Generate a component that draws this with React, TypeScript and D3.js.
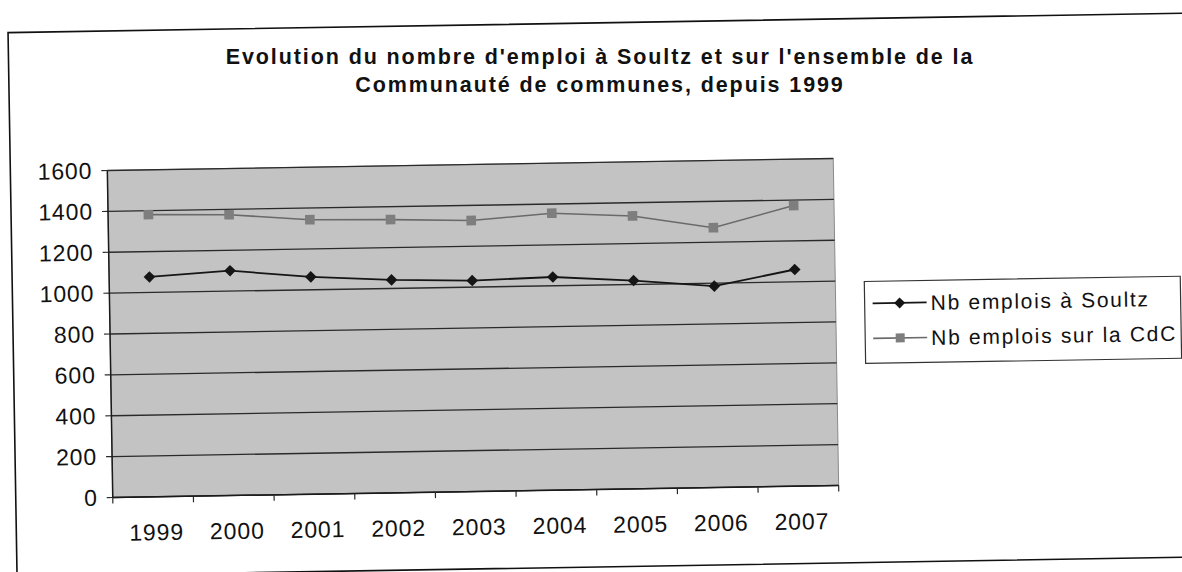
import React from 'react';
import * as d3 from 'd3';

const years = ['1999', '2000', '2001', '2002', '2003', '2004', '2005', '2006', '2007'];
const soultz = [1076, 1100, 1063, 1042, 1032, 1043, 1019, 985, 1060];
const cdc = [1381, 1374, 1343, 1337, 1326, 1355, 1335, 1271, 1373];
const yTicks = [0, 200, 400, 600, 800, 1000, 1200, 1400, 1600];
const seriesNames = ['Nb emplois à Soultz', 'Nb emplois sur la CdC'];
const titleLines = [
  "Evolution du nombre d'emploi à Soultz et sur l'ensemble de la",
  'Communauté de communes, depuis 1999',
];

const W = 1182;
const H = 572;
const plot = { left: 110, right: 836, top: 164.5, bottom: 491.5 };
const FONT = '"Liberation Sans", Arial, sans-serif';

export default function App() {
  const x = d3.scaleBand<string>().domain(years).range([plot.left, plot.right]);
  const y = d3.scaleLinear().domain([0, 1600]).range([plot.bottom, plot.top]);
  const cx = (yr: string) => (x(yr) as number) + x.bandwidth() / 2;

  const line = d3
    .line<number>()
    .x((_, i) => cx(years[i]))
    .y((d) => y(d));

  const diamond = (px: number, py: number, r: number) => {
    const p = d3.path();
    p.moveTo(px, py - r);
    p.lineTo(px + r, py);
    p.lineTo(px, py + r);
    p.lineTo(px - r, py);
    p.closePath();
    return p.toString();
  };

  const boundaries = years.map((yr) => x(yr) as number).concat([plot.right]);

  return (
    <svg
      width={W}
      height={H}
      style={{ position: 'absolute', left: 0, top: 0, background: '#fff' }}
    >
      <rect x={0} y={0} width={W} height={H} fill="#fff" />

      {/* title (kept level so the two lines do not collide) */}
      {titleLines.map((t, i) => (
        <text
          key={i}
          x={600}
          y={57 + i * 28}
          textAnchor="middle"
          dominantBaseline="central"
          fontFamily={FONT}
          fontWeight="bold"
          fontSize={21.5}
          letterSpacing={1.9}
          fill="#111"
        >
          {t}
        </text>
      ))}

      <g transform="rotate(-0.95 472 328)">
        {/* outer frame */}
        <rect x={13} y={25} width={1200} height={544} fill="none" stroke="#111" strokeWidth={1.6} />

        {/* plot area */}
        <rect
          x={plot.left}
          y={plot.top}
          width={plot.right - plot.left}
          height={plot.bottom - plot.top}
          fill="#c3c3c3"
          stroke="#8a8a8a"
          strokeWidth={1}
        />
        {yTicks.map((t) => (
          <g key={t}>
            <line
              x1={plot.left}
              x2={plot.right}
              y1={y(t)}
              y2={y(t)}
              stroke="#2a2a2a"
              strokeWidth={1.3}
            />
            <line x1={plot.left - 6} x2={plot.left} y1={y(t)} y2={y(t)} stroke="#2a2a2a" strokeWidth={1.2} />
            <text
              x={plot.left - 15}
              y={y(t)}
              textAnchor="end"
              dominantBaseline="central"
              fontFamily={FONT}
              fontSize={23}
              letterSpacing={0.9}
              fill="#111"
            >
              {t}
            </text>
          </g>
        ))}
        {/* axes */}
        <line x1={plot.left} x2={plot.left} y1={plot.top} y2={plot.bottom} stroke="#1a1a1a" strokeWidth={1.5} />
        <line x1={plot.left} x2={plot.right} y1={plot.bottom} y2={plot.bottom} stroke="#1a1a1a" strokeWidth={1.5} />
        {boundaries.map((b, i) => (
          <line key={i} x1={b} x2={b} y1={plot.bottom} y2={plot.bottom + 6} stroke="#2a2a2a" strokeWidth={1.2} />
        ))}
        {years.map((yr) => (
          <text
            key={yr}
            x={cx(yr) + 3}
            y={527}
            textAnchor="middle"
            dominantBaseline="central"
            fontFamily={FONT}
            fontSize={23}
            letterSpacing={0.9}
            fill="#111"
          >
            {yr}
          </text>
        ))}

        {/* CdC series */}
        <path d={line(cdc) as string} fill="none" stroke="#6a6a6a" strokeWidth={1.6} />
        {cdc.map((v, i) => (
          <rect
            key={i}
            x={cx(years[i]) - 4.8}
            y={y(v) - 4.8}
            width={9.6}
            height={9.6}
            fill="#7e7e7e"
          />
        ))}

        {/* Soultz series */}
        <path d={line(soultz) as string} fill="none" stroke="#151515" strokeWidth={1.8} />
        {soultz.map((v, i) => (
          <path key={i} d={diamond(cx(years[i]), y(v), 5.8)} fill="#151515" />
        ))}

        {/* legend */}
        <rect x={865} y={288} width={316} height={82} fill="#fff" stroke="#333" strokeWidth={1.2} />
        {seriesNames.map((name, i) => {
          const ly = 310 + i * 35;
          return (
            <g key={name}>
              <line
                x1={873}
                x2={927}
                y1={ly}
                y2={ly}
                stroke={i === 0 ? '#151515' : '#6a6a6a'}
                strokeWidth={i === 0 ? 1.8 : 1.6}
              />
              {i === 0 ? (
                <path d={diamond(900, ly, 5.5)} fill="#151515" />
              ) : (
                <rect x={895.5} y={ly - 4.5} width={9} height={9} fill="#7e7e7e" />
              )}
              <text
                x={931}
                y={ly}
                dominantBaseline="central"
                fontFamily={FONT}
                fontSize={21}
                letterSpacing={1.7}
                fill="#111"
              >
                {name}
              </text>
            </g>
          );
        })}
      </g>
    </svg>
  );
}
